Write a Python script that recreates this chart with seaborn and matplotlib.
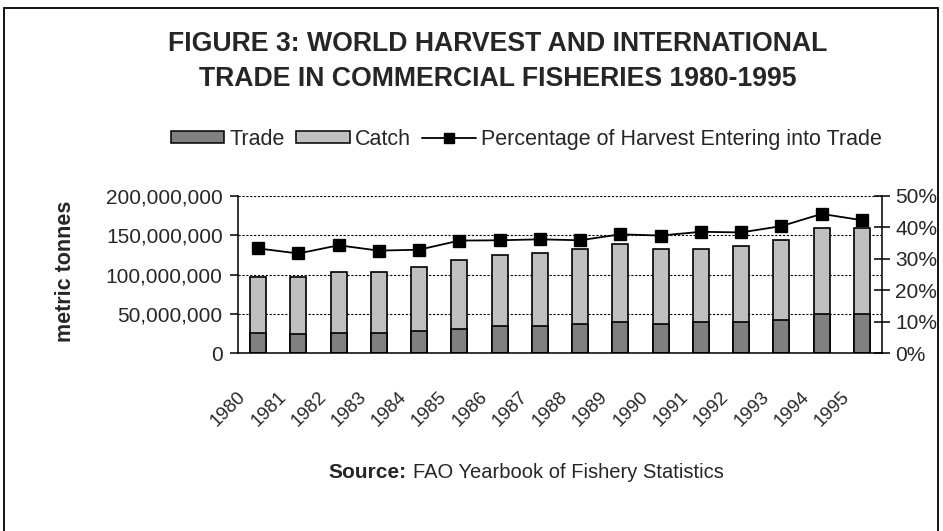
# World harvest vs international trade in fisheries, 1980-1995
import matplotlib
matplotlib.use("Agg")
import matplotlib.pyplot as plt
import matplotlib.ticker as mticker
from matplotlib.patches import Patch, Rectangle
from matplotlib.lines import Line2D
from matplotlib.transforms import ScaledTranslation
import pandas as pd
import seaborn as sns

# Data
years = ["1980", "1981", "1982", "1983", "1984", "1985", "1986", "1987",
         "1988", "1989", "1990", "1991", "1992", "1993", "1994", "1995"]
trade = [26.0e6, 23.8e6, 26.0e6, 26.0e6, 28.4e6, 31.0e6, 34.4e6, 34.4e6,
         36.5e6, 39.0e6, 36.5e6, 39.0e6, 39.0e6, 41.6e6, 49.3e6, 49.3e6]
catch = [71.0e6, 73.2e6, 76.8e6, 77.0e6, 81.6e6, 87.0e6, 90.6e6, 93.6e6,
         96.5e6, 99.5e6, 96.5e6, 94.0e6, 97.0e6, 101.9e6, 109.5e6, 109.7e6]
pct_trade = [33.3, 31.7, 34.3, 32.6, 32.9, 35.8, 35.9, 36.2,
             35.9, 37.8, 37.4, 38.6, 38.4, 40.4, 44.3, 42.3]

df = pd.DataFrame({"year": years, "trade": trade, "catch": catch, "pct": pct_trade})
df["stack_top"] = df["trade"] + df["catch"]  # catch sits on top of trade

sns.set_theme(style="white")
plt.rcParams["font.family"] = ["Liberation Sans", "DejaVu Sans"]

fig = plt.figure(figsize=(9.43, 5.31), dpi=100)
ax = fig.add_axes([0.2524, 0.3352, 0.6829, 0.2957])

# bars: full stack in light grey, trade overlaid at the bottom
sns.barplot(data=df, x="year", y="stack_top", color="#c0c0c0", width=0.4,
            edgecolor="black", linewidth=1.2, saturation=1, ax=ax)
sns.barplot(data=df, x="year", y="trade", color="#808080", width=0.4,
            edgecolor="black", linewidth=1.2, saturation=1, ax=ax)

ax.set_ylim(0, 200e6)
ax.set_xlim(-0.5, len(years) - 0.5)
ax.set_yticks([0, 50e6, 100e6, 150e6, 200e6])
ax.yaxis.set_major_formatter(mticker.StrMethodFormatter("{x:,.0f}"))
ax.set_axisbelow(True)
ax.yaxis.grid(True, color="black", linestyle=(0, (2, 1.5)), linewidth=0.8)
ax.xaxis.grid(False)

# percentage line on the right axis
ax2 = ax.twinx()
sns.pointplot(data=df, x="year", y="pct", color="black", markers="s",
              linestyles="-", markersize=8.5, linewidth=1.3, ax=ax2)
ax2.set_ylim(0, 50)
ax2.set_xlim(-0.5, len(years) - 0.5)
ax2.set_yticks([0, 10, 20, 30, 40, 50])
ax2.yaxis.set_major_formatter(mticker.PercentFormatter(decimals=0))
ax2.set_ylabel("")
ax2.grid(False)

# x ticks: marks between categories, labels at the centers
ax.set_xticks([i - 0.5 for i in range(len(years) + 1)])
ax.set_xticklabels([])
ax.set_xticks(range(len(years)), minor=True)
ax.set_xticklabels(years, minor=True, rotation=45, ha="right", va="center",
                   rotation_mode="anchor", fontsize=13.5)
ax.tick_params(axis="x", which="major", direction="inout", length=10, width=1.1, color="black")
ax.tick_params(axis="x", which="minor", length=0, pad=30)
off = ScaledTranslation(-0.15, 0, fig.dpi_scale_trans)
for lab in ax.get_xticklabels(minor=True):
    lab.set_transform(lab.get_transform() + off)

ax.tick_params(axis="y", direction="out", length=6, width=1.1, color="black",
               labelsize=15, pad=5)
ax2.tick_params(axis="y", direction="inout", length=11, width=1.1, color="black",
                labelsize=15, pad=4)
ax.set_xlabel("")
ax.set_ylabel("metric tonnes", fontsize=15.5, fontweight="bold")
ax.yaxis.set_label_coords(-0.252, 0.52)

for a in (ax, ax2):
    a.spines["top"].set_visible(False)
    for s in ("left", "right", "bottom"):
        a.spines[s].set_color("black")
        a.spines[s].set_linewidth(1.1)
ax.spines["right"].set_visible(False)
ax2.spines["left"].set_visible(False)
ax2.spines["bottom"].set_visible(False)

# title
fig.text(0.528, 0.885, "FIGURE 3: WORLD HARVEST AND INTERNATIONAL\nTRADE IN COMMERCIAL FISHERIES 1980-1995",
         ha="center", va="center", fontsize=19.2, fontweight="bold", linespacing=1.45)

# legend
handles = [Patch(facecolor="#808080", edgecolor="black", linewidth=1.1),
           Patch(facecolor="#c0c0c0", edgecolor="black", linewidth=1.1),
           Line2D([], [], color="black", marker="s", markersize=7, linewidth=1.3)]
fig.legend(handles, ["Trade", "Catch", "Percentage of Harvest Entering into Trade"],
           loc="center", bbox_to_anchor=(0.558, 0.738), ncol=3, frameon=False,
           fontsize=15.5, handlelength=2.5, handleheight=0.55, handletextpad=0.25,
           columnspacing=0.5)

# source line
fig.text(0.3478, 0.0998, "Source:", fontsize=15, fontweight="bold", va="baseline")
fig.text(0.438, 0.0998, "FAO Yearbook of Fishery Statistics", fontsize=14.5, va="baseline")

# outer frame
fig.patches.append(Rectangle((0.0042, -0.02), 0.9905, 1.005, transform=fig.transFigure,
                             fill=False, edgecolor="black", linewidth=1.3))

plt.savefig("out.png", dpi=100)
plt.close()
